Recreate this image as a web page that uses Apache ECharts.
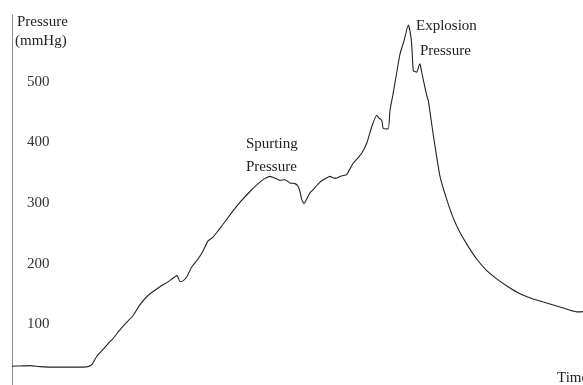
<!DOCTYPE html>
<html>
<head>
<meta charset="utf-8">
<script src="https://cdn.jsdelivr.net/npm/echarts@6/dist/echarts.min.js"></script>
<style>
  html, body { margin: 0; padding: 0; background: #fff; }
  #main { width: 583px; height: 385px; }
</style>
</head>
<body>
<div id="main"></div>
<script>
// time (arbitrary units) and pressure (mmHg)
var times = [0, 8, 18, 28, 43, 63, 76, 80, 84.7, 92, 98, 99.7, 110, 121.3, 128, 136.3, 148, 156, 165, 168,
  171, 174.7, 179.7, 186, 191, 196, 201, 206, 211, 224.7, 238, 251, 258, 263, 268, 273, 278, 283, 286, 288,
  289.7, 292, 295, 298, 303, 308, 313, 318, 322, 325, 330, 334.7, 338, 341.3, 346, 349.7, 354.7, 359.7, 364.7, 367,
  369.7, 371.3, 376.3, 378, 381.3, 388, 392, 396.3, 398, 399.7, 401.3, 404.7, 407, 408, 409.7, 414.7, 416.3, 421.3, 428, 434.7,
  441, 448, 456, 464.7, 474, 484.7, 496, 508, 519, 531.3, 548, 564.7, 571];
var pressure = [31, 31.4, 32, 30.3, 29.4, 29.4, 30.3, 34, 47, 60.5, 72, 74, 95, 115, 132.5, 148, 162, 170, 180.4, 170.6,
  171.7, 178, 194.6, 207.7, 221, 237.6, 243.7, 254, 265, 295, 319, 338.5, 344, 341, 337.4, 338.5, 333, 332, 327.6, 319,
  306, 299, 307.4, 317, 325.4, 334.4, 340, 344, 341, 341.3, 345, 346.7, 356.5, 366, 374.5, 382, 398.5, 425.7, 444.8, 440,
  436.6, 423, 422, 453, 482, 545.7, 567.5, 593.6, 583.8, 562, 518.4, 515.6, 526.6, 529.4, 515.6, 477.5, 469.3, 412, 344, 306,
  276.4, 251.3, 229, 207.7, 189.7, 175, 162, 150.4, 143, 136.8, 128.7, 120.5, 121];
var yTicks = [100, 200, 300, 400, 500];

var serif = '"Liberation Serif", "DejaVu Serif", serif';
var chart = echarts.init(document.getElementById('main'));

var line = times.map(function (t, i) { return [t, pressure[i]]; });

function txt(x, y, s) {
  return {
    type: 'text', x: x, y: y,
    style: { text: s, fontFamily: serif, fontSize: 15, fill: '#222', verticalAlign: 'middle', align: 'left' }
  };
}

chart.setOption({
  animation: false,
  grid: { left: 12, right: 0, top: 15, bottom: -3 },
  xAxis: { type: 'value', min: 0, max: 571, show: false },
  yAxis: {
    type: 'value', min: 0, max: 610, interval: 100,
    axisLine: { show: true, lineStyle: { color: '#8a8a8a', width: 1 } },
    axisTick: { show: false },
    splitLine: { show: false },
    axisLabel: {
      inside: true, margin: 15, color: '#333', fontFamily: serif, fontSize: 15,
      formatter: function (v) { return yTicks.indexOf(v) >= 0 ? String(v) : ''; }
    }
  },
  graphic: [
    txt(17, 22, 'Pressure'),
    txt(15, 41, '(mmHg)'),
    txt(246, 144, 'Spurting'),
    txt(246, 167, 'Pressure'),
    txt(416, 26, 'Explosion'),
    txt(420, 51, 'Pressure'),
    txt(557, 378, 'Time')
  ],
  series: [{
    type: 'line',
    data: line,
    symbol: 'none',
    smooth: 0.15,
    lineStyle: { color: '#222', width: 1.1 }
  }]
});
</script>
</body>
</html>
